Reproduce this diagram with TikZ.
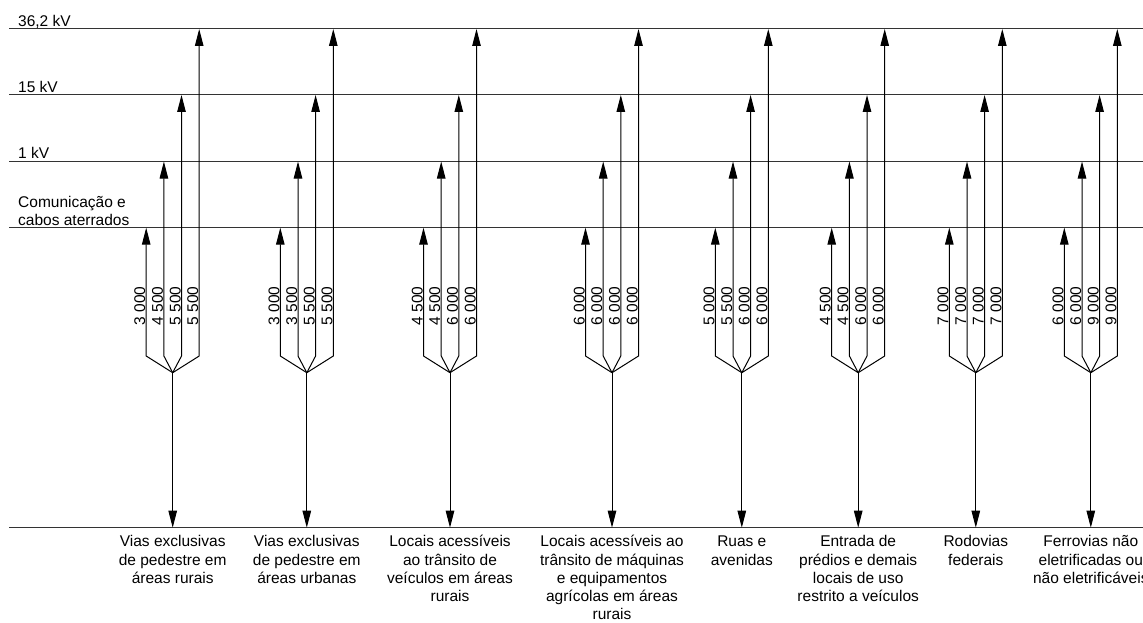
\documentclass[tikz,border=0pt]{standalone}
\usepackage{fontspec}
\setmainfont{Liberation Sans}
\usetikzlibrary{arrows.meta}
\begin{document}
\begin{tikzpicture}[x=1pt,y=-1pt,
  hline/.style={line width=1pt, black!80},
  wire/.style={line width=1pt, black},
  arr/.style={wire, -{Triangle[length=17pt,width=8.5pt]}},
  val/.style={rotate=90, anchor=base, inner sep=0pt, font=\fontsize{15.5}{18}\selectfont},
  lvl/.style={anchor=base west, inner sep=0pt, font=\fontsize{15.5}{17.3}\selectfont},
  lvlm/.style={anchor=north west, align=left, inner sep=0pt, font=\fontsize{15.5}{17.3}\selectfont},
  cat/.style={anchor=north, align=center, inner sep=0pt, font=\fontsize{15.5}{18.3}\selectfont}]
\useasboundingbox (0,0) rectangle (1143,623);
% level lines
\coordinate (L0) at (9,29);    \coordinate (R0) at (1143,29);
\coordinate (L1) at (9,95);    \coordinate (R1) at (1143,95);
\coordinate (L2) at (9,161.5); \coordinate (R2) at (1143,161.5);
\coordinate (L3) at (9,227.7); \coordinate (R3) at (1143,227.7);
\coordinate (B)  at (9,527.7); \coordinate (RB) at (1143,527.7);
\draw[hline] (L0) -- (R0);
\draw[hline] (L1) -- (R1);
\draw[hline] (L2) -- (R2);
\draw[hline] (L3) -- (R3);
\draw[hline] (B) -- (RB);
\node[lvl] (n0) at (18,26.5) {36,2 kV};
\node[lvl] (n1) at (18,92.5) {15 kV};
\node[lvl] (n2) at (18,159) {1 kV};
\node[lvlm] (n3) at (18,195.5) {\rule{0pt}{12pt}Comunicação e\\cabos aterrados};
% groups
\foreach \c/\a/\b/\cc/\d/\t [count=\i] in {
  172.7/3 000/4 500/5 500/5 500/{Vias exclusivas\\de pedestre em\\áreas rurais},
  306.8/3 000/3 500/5 500/5 500/{Vias exclusivas\\de pedestre em\\áreas urbanas},
  450/4 500/4 500/6 000/6 000/{Locais acessíveis\\ao trânsito de\\veículos em áreas\\rurais},
  612/6 000/6 000/6 000/6 000/{Locais acessíveis ao\\trânsito de máquinas\\e equipamentos\\agrícolas em áreas\\rurais},
  741.8/5 000/5 500/6 000/6 000/{Ruas e\\avenidas},
  858.2/4 500/4 500/6 000/6 000/{Entrada de\\prédios e demais\\locais de uso\\restrito a veículos},
  975.8/7 000/7 000/7 000/7 000/{Rodovias\\federais},
  1090.8/6 000/6 000/9 000/9 000/{Ferrovias não\\eletrificadas ou\\não eletrificáveis}}
{
  \coordinate (h\i) at (\c,372.7);
  \draw[arr] (h\i) -- (h\i |- B);
  \node[cat] (t\i) at (\c,534.5) {\rule{0pt}{12pt}\t};
  \foreach \o/\lv/\v [count=\j] in {-26.5/L3/\a, -8.8/L2/\b, 8.8/L1/\cc, 26.5/L0/\d} {
    \coordinate (s\i-\j) at ({\c+(\o)},356);
    \draw[arr] (h\i) -- (s\i-\j) -- (s\i-\j |- \lv);
    \node[val] (v\i-\j) at ({\c+(\o)-1},306) {\v};
  }
}
\end{tikzpicture}
\end{document}
